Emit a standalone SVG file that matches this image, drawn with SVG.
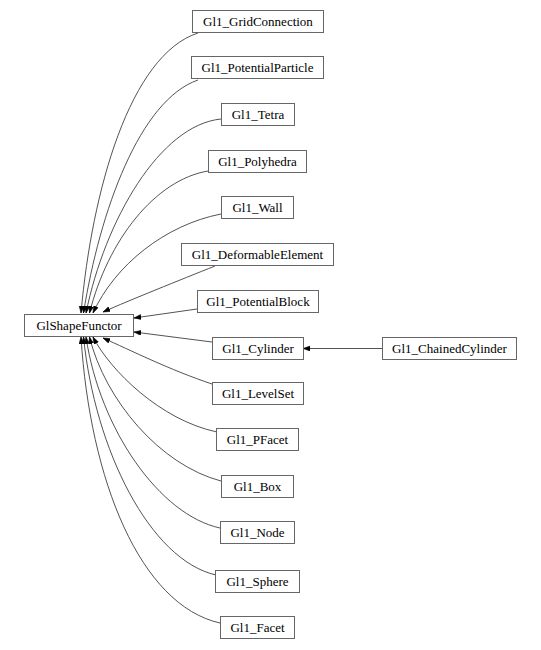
<svg xmlns="http://www.w3.org/2000/svg" width="541" height="650" viewBox="0 0 541 650">
<style>
  .node rect { fill: #ffffff; stroke: #666666; stroke-width: 1; }
  .node text { font-size: 13px; fill: #000000; text-anchor: middle; }
  .edge path { fill: none; stroke: #404040; stroke-width: 0.9; marker-end: url(#arrow); }
</style>
<defs>
  <marker id="arrow" markerUnits="userSpaceOnUse" markerWidth="8" markerHeight="6" refX="7" refY="2.5" orient="auto">
    <path d="M0,0 L7,2.5 L0,5 z" fill="#000000" stroke="#000000" stroke-width="0.5"/>
  </marker>
</defs>
<rect width="541" height="650" fill="#ffffff"/>
<g id="edges" class="edge">
  <path d="M198,33 C130,55 92,190 81,313"/>
  <path d="M198,80 C140,100 100,210 83.5,313"/>
  <path d="M221,119 C160,125 105,220 86,313"/>
  <path d="M208,171 C155,180 108,240 89.5,313"/>
  <path d="M221,214 C165,225 115,265 93,313"/>
  <path d="M215,266 C180,280 130,300 103,312"/>
  <path d="M197,309 L134,318"/>
  <path d="M212,342 L134,332"/>
  <path d="M382,348.5 L303,348.5"/>
  <path d="M212,384 C170,370 130,350 103,338"/>
  <path d="M217,432 C160,420 110,370 93,337"/>
  <path d="M221,481 C160,465 105,400 89.5,337"/>
  <path d="M220,528 C160,515 100,430 86,337"/>
  <path d="M216,575 C150,560 95,450 83.5,337"/>
  <path d="M220,623 C140,605 90,480 81,337"/>
</g>
<g id="nodes" font-family="Liberation Serif, Times New Roman, serif">
<g id="GlShapeFunctor" class="node"><rect x="24.5" y="314.5" width="109" height="22"/><text x="79" y="329.5">GlShapeFunctor</text></g>
<g id="Gl1_GridConnection" class="node"><rect x="192.5" y="10.5" width="131" height="22"/><text x="258" y="25.5">Gl1_GridConnection</text></g>
<g id="Gl1_PotentialParticle" class="node"><rect x="191.5" y="56.5" width="132" height="22"/><text x="257.5" y="71.5">Gl1_PotentialParticle</text></g>
<g id="Gl1_Tetra" class="node"><rect x="221.5" y="103.5" width="73" height="22"/><text x="258" y="118.5">Gl1_Tetra</text></g>
<g id="Gl1_Polyhedra" class="node"><rect x="208.5" y="150.5" width="98" height="22"/><text x="257.5" y="165.5">Gl1_Polyhedra</text></g>
<g id="Gl1_Wall" class="node"><rect x="221.5" y="196.5" width="72" height="22"/><text x="257.5" y="211.5">Gl1_Wall</text></g>
<g id="Gl1_DeformableElement" class="node"><rect x="181.5" y="243.5" width="152" height="22"/><text x="257.5" y="258.5">Gl1_DeformableElement</text></g>
<g id="Gl1_PotentialBlock" class="node"><rect x="197.5" y="290.5" width="121" height="22"/><text x="258" y="305.5">Gl1_PotentialBlock</text></g>
<g id="Gl1_Cylinder" class="node"><rect x="212.5" y="337.5" width="91" height="22"/><text x="258" y="352.5">Gl1_Cylinder</text></g>
<g id="Gl1_ChainedCylinder" class="node"><rect x="382.5" y="337.5" width="134" height="22"/><text x="449.5" y="352.5">Gl1_ChainedCylinder</text></g>
<g id="Gl1_LevelSet" class="node"><rect x="212.5" y="382.5" width="91" height="22"/><text x="258" y="397.5">Gl1_LevelSet</text></g>
<g id="Gl1_PFacet" class="node"><rect x="216.5" y="428.5" width="82" height="22"/><text x="257.5" y="443.5">Gl1_PFacet</text></g>
<g id="Gl1_Box" class="node"><rect x="221.5" y="475.5" width="72" height="22"/><text x="257.5" y="490.5">Gl1_Box</text></g>
<g id="Gl1_Node" class="node"><rect x="220.5" y="521.5" width="74" height="22"/><text x="257.5" y="536.5">Gl1_Node</text></g>
<g id="Gl1_Sphere" class="node"><rect x="215.5" y="570.5" width="84" height="22"/><text x="257.5" y="585.5">Gl1_Sphere</text></g>
<g id="Gl1_Facet" class="node"><rect x="220.5" y="616.5" width="74" height="22"/><text x="257.5" y="631.5">Gl1_Facet</text></g>
</g>
</svg>
